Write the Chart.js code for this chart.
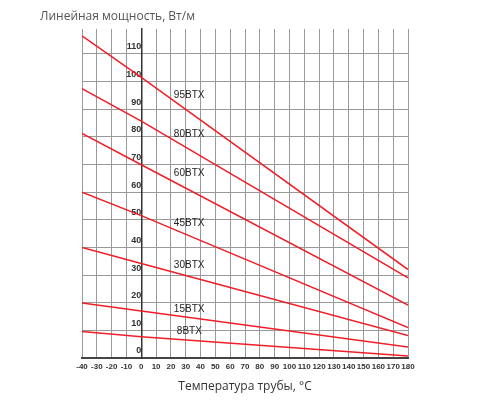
<!DOCTYPE html>
<html>
<head>
<meta charset="utf-8">
<script src="https://cdn.jsdelivr.net/npm/chart.js@4"></script>
<style>
  body { margin: 0; background: #fff; }
  #wrap { position: relative; width: 500px; height: 400px; }
</style>
</head>
<body>
<div id="wrap"><canvas id="chart" width="500" height="400"></canvas></div>
<script>
// temperature points
const temps = [-40, 0, 180];
const s95 = [116.5, 101.5, 32];
const s80 = [97.4, 85.7, 29];
const s60 = [81.2, 69.9, 19.1];
const s45 = [60, 51.5, 11];
const s30 = [40, 34.2, 8.1];
const s15 = [19.9, 17, 4];
const s8 = [9.6, 7.7, 0.7];
const seriesNames = ["95BTX", "80BTX", "60BTX", "45BTX", "30BTX", "15BTX", "8BTX"];
const labelX = [22, 22, 22, 22, 22, 22, 24];
const labelY = [94.9, 80.9, 66.9, 48.9, 33.5, 17.6, 9.6];

const allSeries = [s95, s80, s60, s45, s30, s15, s8];
const red = "rgb(240, 30, 40)";
const narrow = "'Liberation Sans Narrow', 'Liberation Sans', sans-serif";

const seriesLabels = {
    id: "seriesLabels",
    afterDatasetsDraw(chart) {
        const { ctx, scales } = chart;
        ctx.save();
        ctx.font = "10px " + narrow;
        ctx.fillStyle = "#222";
        ctx.textBaseline = "middle";
        seriesNames.forEach((n, i) => {
            ctx.fillText(n, scales.x.getPixelForValue(labelX[i]), scales.y.getPixelForValue(labelY[i]));
        });
        // chart title
        ctx.font = "12px 'Open Sans', sans-serif";
        ctx.fillStyle = "#555";
        ctx.fillText("Линейная мощность, Вт/м", 40, 17);
        ctx.restore();
    },
};

new Chart(document.getElementById("chart"), {
    type: "line",
    data: {
        datasets: allSeries.map((s, i) => ({
            label: seriesNames[i],
            data: temps.map((t, j) => ({ x: t, y: s[j] })),
            borderColor: red,
            borderWidth: 1.5,
            pointRadius: 0,
            tension: 0,
        })),
    },
    options: {
        responsive: false,
        animation: false,
        layout: { padding: { left: 82, right: 92, top: 29, bottom: 2 } },
        plugins: { legend: { display: false }, tooltip: { enabled: false } },
        scales: {
            x: {
                type: "linear",
                min: -40,
                max: 180,
                ticks: {
                    stepSize: 10,
                    autoSkip: false,
                    maxRotation: 0,
                    minRotation: 0,
                    font: { size: 8, family: narrow, weight: "bold" },
                    color: "#333",
                    padding: 4,
                },
                grid: { color: "#999", lineWidth: 1, drawTicks: false },
                border: { color: "#444", width: 2 },
                title: {
                    display: true,
                    text: "Температура трубы, °C",
                    font: { size: 12, family: "'Open Sans', sans-serif" },
                    color: "#333",
                    padding: { top: 4 },
                },
            },
            y: {
                type: "linear",
                position: { x: 0 },
                min: 0,
                max: 119,
                afterBuildTicks: (axis) => {
                    axis.ticks = axis.ticks.filter((t) => t.value <= 110);
                },
                ticks: {
                    stepSize: 10,
                    labelOffset: -7,
                    padding: 4,
                    font: { size: 9, family: narrow, weight: "bold" },
                    color: "#333",
                },
                grid: { color: "#999", lineWidth: 1, drawTicks: false },
                border: { color: "#333", width: 1.5 },
            },
        },
    },
    plugins: [seriesLabels],
});
</script>
</body>
</html>
